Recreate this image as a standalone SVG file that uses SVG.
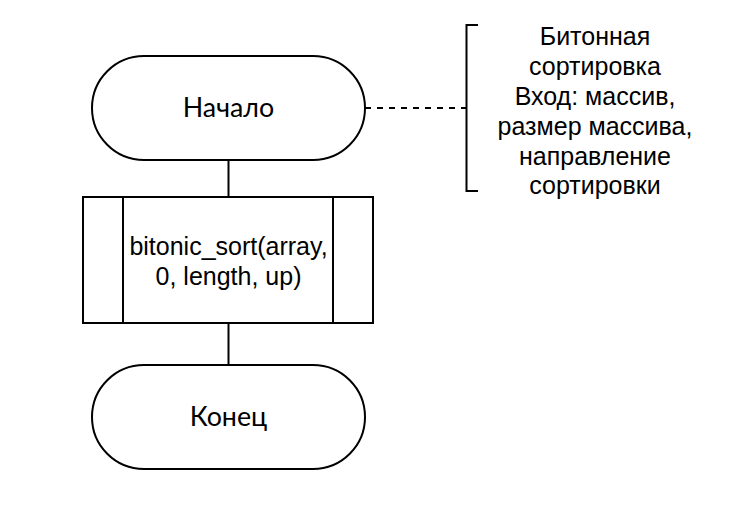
<svg xmlns="http://www.w3.org/2000/svg" width="754" height="510" viewBox="0 0 754 510">
<style>
.s{fill:#fff;stroke:#000;stroke-width:2}
.l{fill:none;stroke:#000;stroke-width:2}
.t1{font-family:Lato,"Noto Sans",sans-serif;font-size:26.8px;fill:#000;text-anchor:middle}
.t2{font-family:"Liberation Sans",Arial,sans-serif;font-size:25px;fill:#000;text-anchor:middle}
</style>
<rect width="754" height="510" fill="#fff"/>
<g id="connectors">
<line class="l" x1="228.5" y1="160" x2="228.5" y2="197"/>
<line class="l" x1="228.5" y1="323" x2="228.5" y2="365"/>
<line class="l" x1="365" y1="108" x2="466" y2="108" stroke-dasharray="6 6"/>
</g>
<g id="start">
<rect class="s" x="92" y="56" width="273" height="104" rx="52" ry="52"/>
<text class="t1" x="228.5" y="117">Начало</text>
</g>
<g id="process">
<rect class="s" x="83" y="197" width="290" height="126"/>
<line class="l" x1="123" y1="197" x2="123" y2="323"/>
<line class="l" x1="333" y1="197" x2="333" y2="323"/>
<text class="t2" x="228.5" y="255">bitonic_sort(array,</text>
<text class="t2" x="228.5" y="285">0, length, up)</text>
</g>
<g id="end">
<rect class="s" x="92" y="365" width="273" height="104" rx="52" ry="52"/>
<text class="t1" x="228.5" y="426">Конец</text>
</g>
<g id="note">
<path class="l" d="M478 25 H466.5 V191 H478"/>
<text class="t2" x="595" y="45">Битонная</text>
<text class="t2" x="595" y="75">сортировка</text>
<text class="t2" x="595" y="105">Вход: массив,</text>
<text class="t2" x="595" y="135">размер массива,</text>
<text class="t2" x="595" y="165">направление</text>
<text class="t2" x="595" y="194">сортировки</text>
</g>
</svg>
